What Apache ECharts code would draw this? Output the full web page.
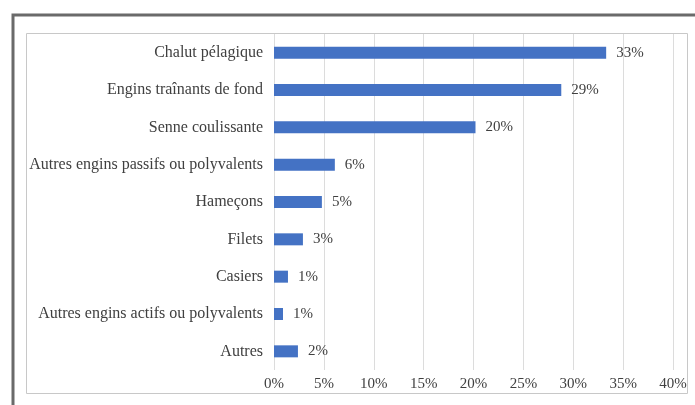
<!DOCTYPE html>
<html>
<head>
<meta charset="utf-8">
<style>
  html, body { margin: 0; padding: 0; background: #ffffff; }
  #chart { width: 695px; height: 405px; }
</style>
<script src="https://cdn.jsdelivr.net/npm/echarts@6/dist/echarts.min.js"></script>
</head>
<body>
<div id="chart"></div>
<script>
// Fishing gear categories, top to bottom
const categories = [
  'Chalut pélagique',
  'Engins traînants de fond',
  'Senne coulissante',
  'Autres engins passifs ou polyvalents',
  'Hameçons',
  'Filets',
  'Casiers',
  'Autres engins actifs ou polyvalents',
  'Autres'
];
// Share of each gear, in percent
const shares = [33.3, 28.8, 20.2, 6.1, 4.8, 2.9, 1.4, 0.9, 2.4];
// Value axis ticks, in percent
const axisTicks = [0, 5, 10, 15, 20, 25, 30, 35, 40];

const textFont = '"Liberation Serif", "DejaVu Serif", serif';
const textColor = '#404040';

const chart = echarts.init(document.getElementById('chart'), null, { renderer: 'canvas' });

chart.setOption({
  backgroundColor: '#ffffff',
  animation: false,
  graphic: [
    // outer frame (left and top edges visible)
    { type: 'rect', shape: { x: 13, y: 15, width: 700, height: 420 },
      style: { fill: 'none', stroke: '#6a6a6a', lineWidth: 3 }, silent: true },
    // chart area border
    { type: 'rect', shape: { x: 26.5, y: 33.5, width: 661, height: 360 },
      style: { fill: 'none', stroke: '#c8c8c8', lineWidth: 1 }, silent: true }
  ],
  grid: { left: 274, right: 22, top: 34, bottom: 35, containLabel: false },
  xAxis: {
    type: 'value',
    min: axisTicks[0],
    max: axisTicks[axisTicks.length - 1],
    interval: axisTicks[1] - axisTicks[0],
    axisLine: { show: false },
    axisTick: { show: false },
    splitLine: { show: true, lineStyle: { color: '#dcdcdc', width: 1 } },
    axisLabel: {
      formatter: v => v + '%',
      fontFamily: textFont, fontSize: 15, color: textColor, margin: 7
    }
  },
  yAxis: {
    type: 'category',
    data: categories,
    inverse: true,
    axisLine: { show: false },
    axisTick: { show: false },
    axisLabel: { fontFamily: textFont, fontSize: 16, color: textColor, margin: 11 }
  },
  series: [{
    type: 'bar',
    data: shares,
    barWidth: 12,
    itemStyle: { color: '#4472c4' },
    label: {
      show: true,
      position: 'right',
      distance: 10,
      formatter: p => Math.round(p.value) + '%',
      fontFamily: textFont, fontSize: 15, color: textColor
    }
  }]
});
</script>
</body>
</html>
